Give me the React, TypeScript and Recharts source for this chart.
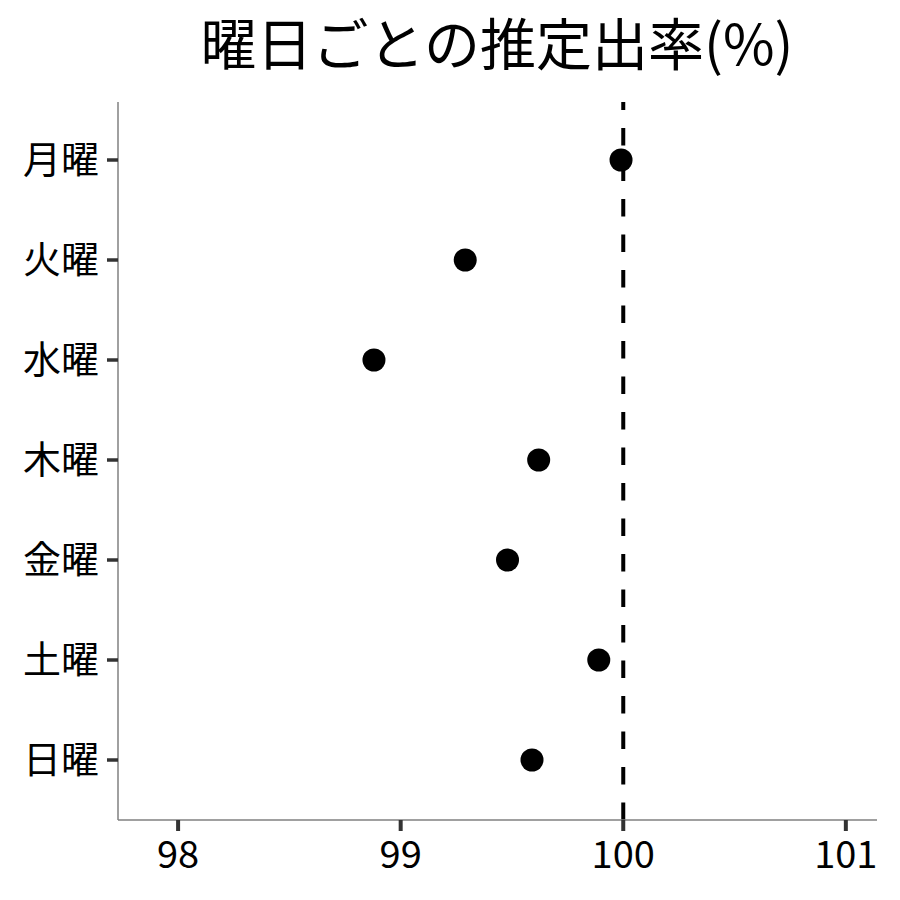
import React from 'react';
import { ScatterChart, Scatter, XAxis, YAxis, ReferenceLine } from 'recharts';

// 曜日ごとの推定出率
const days = ['月曜', '火曜', '水曜', '木曜', '金曜', '土曜', '日曜'];
const rates = [99.99, 99.29, 98.88, 99.62, 99.48, 99.89, 99.59];
const xTicks = [98, 99, 100, 101];
const baseline = 100;

const data = days.map((day, i) => ({ day, value: rates[i] }));

const FONT = '"Noto Sans CJK JP", "Noto Sans", sans-serif';

const Dot = (props: any) => <circle cx={props.cx} cy={props.cy} r={11.5} fill="#000" />;

const App: React.FC = () => {
  return (
    <div style={{ position: 'absolute', left: 0, top: 0, width: 900, height: 900, background: '#fff', fontFamily: FONT }}>
      <div
        style={{
          position: 'absolute',
          left: 118,
          width: 758,
          top: 13,
          fontSize: 56,
          lineHeight: '56px',
          textAlign: 'center',
          color: '#000',
        }}
      >
        曜日ごとの推定出率(%)
      </div>
      <ScatterChart width={900} height={900} margin={{ top: 102, right: 23, bottom: 0, left: 0 }}>
        <XAxis
          type="number"
          dataKey="value"
          domain={[97.73, 101.14]}
          ticks={xTicks}
          allowDataOverflow
          height={80}
          tickSize={11}
          tickMargin={10}
          stroke="#333"
          strokeWidth={4}
          tick={{ fill: '#000', fontSize: 38, stroke: 'none' }}
          tickLine={{ stroke: '#333', strokeWidth: 4 }}
          axisLine={{ stroke: '#808080', strokeWidth: 1.5 }}
        />
        <YAxis
          type="category"
          dataKey="day"
          reversed
          width={118}
          padding={{ top: 8, bottom: 10 }}
          tickSize={11}
          tickMargin={8}
          stroke="#333"
          strokeWidth={3.5}
          tick={{ fill: '#000', fontSize: 38, stroke: 'none' }}
          tickLine={{ stroke: '#333', strokeWidth: 3.5 }}
          axisLine={{ stroke: '#808080', strokeWidth: 1.5 }}
        />
        <ReferenceLine x={baseline} stroke="#000" strokeWidth={4} strokeDasharray="17.5 18" />
        <Scatter data={data} shape={Dot} isAnimationActive={false} />
      </ScatterChart>
    </div>
  );
};

export default App;
